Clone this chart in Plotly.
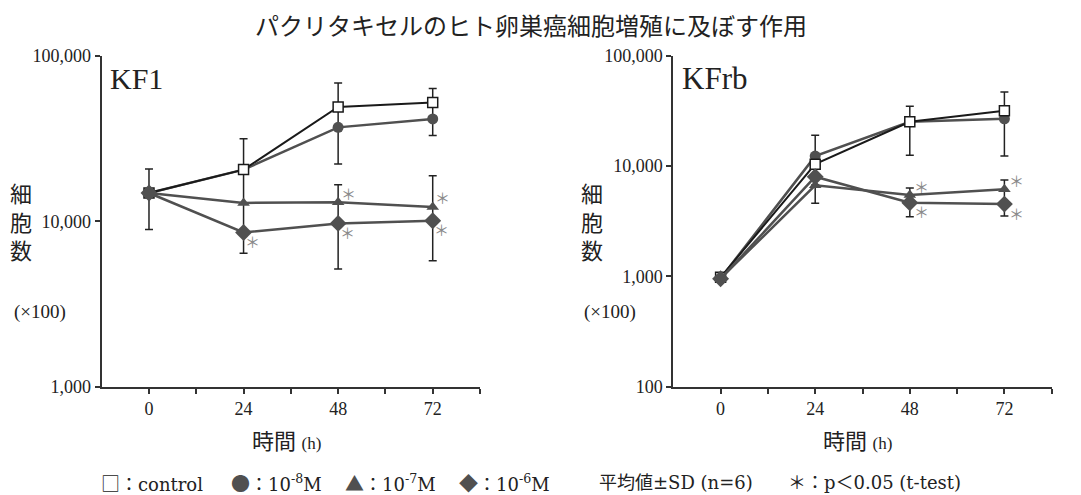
import math
import plotly.graph_objects as go

# ---------------- data ----------------
hours = [0, 24, 48, 72]
x_tick_vals = [0, 12, 24, 36, 48, 60, 72, 84]
x_tick_text = ["0", "", "24", "", "48", "", "72", ""]

kf1_ticks = [1000, 10000, 100000]
kf1_tick_text = ["1,000", "10,000", "100,000"]
kfrb_ticks = [100, 1000, 10000, 100000]
kfrb_tick_text = ["100", "1,000", "10,000", "100,000"]

# KF1 (cells x100)
kf1_control = [14800, 20500, 49000, 52200]
kf1_1e8 = [14800, 20500, 36900, 41500]
kf1_1e7 = [14800, 12900, 13000, 12200]
kf1_1e6 = [14800, 8550, 9700, 10070]
kf1_control_sd_up = [5900, 11000, 19400, 11200]
kf1_control_sd_dn = [0, 0, 12100, 10700]
kf1_1e8_sd_up = [0, 0, 0, 0]
kf1_1e8_sd_dn = [0, 0, 14700, 8500]
kf1_1e7_sd_up = [0, 0, 3600, 6600]
kf1_1e7_sd_dn = [0, 0, 3300, 2130]
kf1_1e6_sd_up = [0, 11950, 0, 0]
kf1_1e6_sd_dn = [5900, 2150, 4560, 4300]

# KFrb (cells x100)
kfrb_control = [980, 10400, 25200, 31700]
kfrb_1e8 = [960, 12300, 25200, 26800]
kfrb_1e7 = [960, 6680, 5460, 6150]
kfrb_1e6 = [950, 8000, 4650, 4520]
kfrb_control_sd_up = [0, 0, 9600, 15200]
kfrb_control_sd_dn = [0, 0, 12700, 4900]
kfrb_1e8_sd_up = [0, 6700, 0, 0]
kfrb_1e8_sd_dn = [0, 5620, 0, 14500]
kfrb_1e7_sd_up = [0, 0, 850, 1320]
kfrb_1e7_sd_dn = [0, 2090, 810, 1630]
kfrb_1e6_sd_up = [0, 0, 0, 0]
kfrb_1e6_sd_dn = [0, 0, 1180, 1000]

# significant points (index of time point)
kf1_sig_1e7 = [2, 3]
kf1_sig_1e6 = [1, 2, 3]
kfrb_sig_1e7 = [2, 3]
kfrb_sig_1e6 = [2, 3]

title_text = "パクリタキセルのヒト卵巣癌細胞増殖に及ぼす作用"

# ---------------- styling ----------------
OFF = 8                      # default page margin of the html body
FW, FH = 1081 - OFF, 495 - OFF
SERIF = "Liberation Serif, Noto Sans CJK JP, serif"
WSERIF = "DejaVu Serif, Noto Sans CJK JP, serif"
GOTHIC = "Noto Sans CJK JP, sans-serif"
CJK = "Noto Sans CJK JP"
AX = "#333333"
BLACK = "#1a1a1a"
GRAY = "#505050"
AST = "#8a8a8a"


def px_x(p):
    return (p - OFF) / FW


def px_y(p):
    return 1 - (p - OFF) / FH


fig = go.Figure()

panels = [
    dict(xa="x", ya="y",
         series=[(kf1_1e8, kf1_1e8_sd_up, kf1_1e8_sd_dn, "circle", GRAY, 11),
                 (kf1_control, kf1_control_sd_up, kf1_control_sd_dn, "square", BLACK, 10),
                 (kf1_1e7, kf1_1e7_sd_up, kf1_1e7_sd_dn, "triangle-up", GRAY, 11),
                 (kf1_1e6, kf1_1e6_sd_up, kf1_1e6_sd_dn, "diamond", GRAY, 13)]),
    dict(xa="x2", ya="y2",
         series=[(kfrb_1e8, kfrb_1e8_sd_up, kfrb_1e8_sd_dn, "circle", GRAY, 11),
                 (kfrb_control, kfrb_control_sd_up, kfrb_control_sd_dn, "square", BLACK, 10),
                 (kfrb_1e7, kfrb_1e7_sd_up, kfrb_1e7_sd_dn, "triangle-up", GRAY, 11),
                 (kfrb_1e6, kfrb_1e6_sd_up, kfrb_1e6_sd_dn, "diamond", GRAY, 13)]),
]

# error bars first (below all lines / markers)
for p in panels:
    for vals, up, dn, sym, col, size in p["series"]:
        fig.add_trace(go.Scatter(
            x=hours, y=vals, xaxis=p["xa"], yaxis=p["ya"], mode="markers",
            marker=dict(size=2, opacity=0),
            error_y=dict(type="data", symmetric=False, array=up, arrayminus=dn,
                         color="#222222", thickness=1.5, width=4),
            showlegend=False, hoverinfo="skip"))

for p in panels:
    for vals, up, dn, sym, col, size in p["series"]:
        if sym == "square":
            marker = dict(symbol="square", size=size, color="white",
                          line=dict(color=BLACK, width=1.5))
            line = dict(color=BLACK, width=2)
        else:
            marker = dict(symbol=sym, size=size, color=col, line=dict(width=0))
            line = dict(color=col, width=2.5)
        fig.add_trace(go.Scatter(
            x=hours, y=vals, xaxis=p["xa"], yaxis=p["ya"], mode="lines+markers",
            line=line, marker=marker, showlegend=False))

annotations = []


def paper_text(x, y, text, size, family=SERIF, xanchor="center", color="#222"):
    annotations.append(dict(x=px_x(x), y=px_y(y), xref="paper", yref="paper",
                            text=text, showarrow=False, xanchor=xanchor,
                            yanchor="middle", borderpad=0,
                            font=dict(family=family, size=size, color=color)))


# asterisks
def add_sig(xref, yref, vals, idxs, up, dx):
    for i in idxs:
        annotations.append(dict(
            x=hours[i], y=math.log10(vals[i]), xref=xref, yref=yref,
            text="＊", showarrow=False, xanchor="center", yanchor="middle",
            xshift=dx, yshift=9 if up else -9,
            font=dict(family=GOTHIC, size=15, color=AST)))


add_sig("x", "y", kf1_1e7, kf1_sig_1e7, True, 10)
add_sig("x", "y", kf1_1e6, kf1_sig_1e6, False, 9)
add_sig("x2", "y2", kfrb_1e7, kfrb_sig_1e7, True, 12)
add_sig("x2", "y2", kfrb_1e6, kfrb_sig_1e6, False, 12)

# panel labels
paper_text(109, 78, "KF1", 30, xanchor="left")
paper_text(681, 78, "KFrb", 31, xanchor="left")

# y axis labels
for cx in (21, 592):
    paper_text(cx, 223, "細<br>胞<br>数", 22)
for cx in (40, 610):
    paper_text(cx, 312, "(×100)", 19)

# x axis titles
for cx in (286, 857):
    paper_text(cx, 441, "時間 <span style='font-size:17px'>(h)</span>", 22)

# title
paper_text(531, 24, title_text, 24, family=GOTHIC)

# legend line
G = f"<span style='font-family:{CJK};font-size:19px;color:{GRAY}'>"
legend_items = [
    (100, f"<span style='font-family:{CJK};font-size:19px'>□</span>：control"),
    (230, f"{G}●</span>：10<sup>-8</sup>M"),
    (344, f"{G}▲</span>：10<sup>-7</sup>M"),
    (458, f"{G}◆</span>：10<sup>-6</sup>M"),
    (598, "平均値±SD (n=6)"),
    (787, "＊：p＜0.05 (t-test)"),
]
for lx, txt in legend_items:
    paper_text(lx, 482, txt, 18, family=WSERIF, xanchor="left")

xaxis_common = dict(range=[-12, 84], tickvals=x_tick_vals, ticktext=x_tick_text,
                    showline=True, linecolor=AX, linewidth=2, ticks="outside",
                    ticklen=5, tickwidth=1.5, tickcolor=AX, showgrid=False,
                    zeroline=False,
                    tickfont=dict(family=SERIF, size=18, color="#222"))
yaxis_common = dict(type="log", showline=True, linecolor=AX, linewidth=2,
                    ticks="outside", ticklen=5, tickwidth=1.5, tickcolor=AX,
                    showgrid=False, zeroline=False,
                    tickfont=dict(family=SERIF, size=18, color="#222"))

fig.update_layout(
    width=FW, height=FH,
    margin=dict(l=0, r=0, t=0, b=0, pad=0, autoexpand=False),
    paper_bgcolor="white", plot_bgcolor="white",
    showlegend=False,
    xaxis=dict(domain=[px_x(101.7), px_x(480)], anchor="y", **xaxis_common),
    xaxis2=dict(domain=[px_x(673.3), px_x(1051.7)], anchor="y2", **xaxis_common),
    yaxis=dict(domain=[px_y(386.7), px_y(55.7)], anchor="x", range=[3, 5],
               tickvals=kf1_ticks, ticktext=kf1_tick_text, **yaxis_common),
    yaxis2=dict(domain=[px_y(386.7), px_y(55.7)], anchor="x2", range=[2, 5],
                tickvals=kfrb_ticks, ticktext=kfrb_tick_text, **yaxis_common),
    annotations=annotations,
)

fig.write_html("out.html")
